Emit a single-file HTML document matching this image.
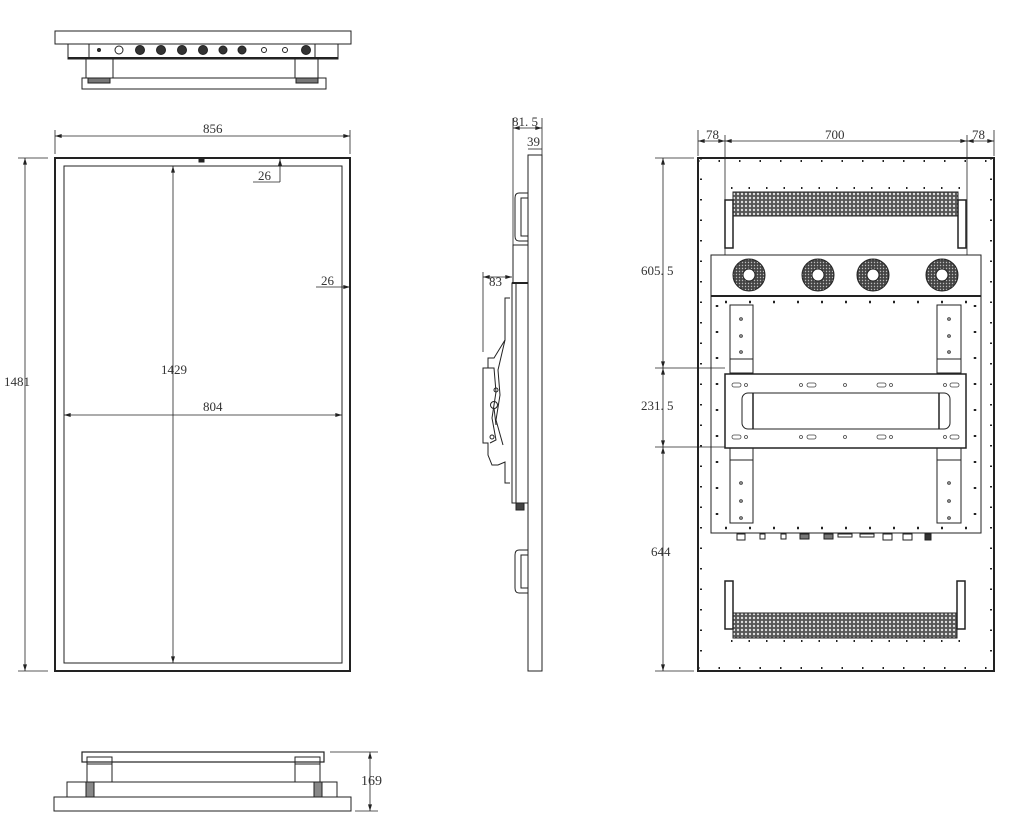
<!DOCTYPE html>
<html><head><meta charset="utf-8"><style>
html,body{margin:0;padding:0;background:#fff;}
svg{display:block}
text{font-family:"Liberation Serif",serif;font-size:13px;fill:#333}
</style></head><body>
<svg width="1024" height="826" viewBox="0 0 1024 826" xmlns="http://www.w3.org/2000/svg">
<defs>
<pattern id="mesh" width="4" height="4" patternUnits="userSpaceOnUse">
<rect width="4" height="4" fill="#555"/><circle cx="2" cy="2" r="1.2" fill="#ddd"/>
</pattern>
<pattern id="fanp" width="3" height="3" patternUnits="userSpaceOnUse">
<rect width="3" height="3" fill="#444"/><circle cx="1.5" cy="1.5" r="0.7" fill="#bbb"/>
</pattern>
<marker id="a" viewBox="0 0 10 6" refX="10" refY="3" markerWidth="7" markerHeight="4" orient="auto-start-reverse" markerUnits="userSpaceOnUse">
<path d="M0 0 L10 3 L0 6 Z" fill="#222"/>
</marker>
</defs>
<g fill="none" stroke="#222" stroke-width="1">
<!-- TOP VIEW -->
<rect x="55" y="31" width="296" height="13"/>
<rect x="68" y="44" width="270" height="15"/>
<rect x="89" y="44" width="226" height="14"/>
<rect x="86" y="59" width="27" height="19"/>
<rect x="295" y="59" width="23" height="19"/>
<rect x="82" y="78" width="244" height="11"/>
<rect x="88" y="78" width="22" height="5" fill="#777"/>
<rect x="296" y="78" width="22" height="5" fill="#777"/>
<line x1="68" y1="58" x2="338" y2="58" stroke-width="2"/>
</g>
<g stroke="#222" fill="none">
<circle cx="99" cy="50" r="1.5" fill="#333"/>
<circle cx="119" cy="50" r="4"/>
<circle cx="140" cy="50" r="4.5" fill="#333"/>
<circle cx="161" cy="50" r="4.5" fill="#333"/>
<circle cx="182" cy="50" r="4.5" fill="#333"/>
<circle cx="203" cy="50" r="4.5" fill="#333"/>
<circle cx="223" cy="50" r="4" fill="#333"/>
<circle cx="242" cy="50" r="4" fill="#333"/>
<circle cx="264" cy="50" r="2.5"/>
<circle cx="285" cy="50" r="2.5"/>
<circle cx="306" cy="50" r="4.5" fill="#333"/>
</g>

<!-- FRONT VIEW -->
<g fill="none" stroke="#222">
<rect x="55" y="158" width="295" height="513" stroke-width="2"/>
<rect x="64" y="166" width="278" height="497"/>
<rect x="199" y="159" width="5" height="3" fill="#222"/>
<line x1="173" y1="166" x2="173" y2="663" stroke-width="0.8" marker-start="url(#a)" marker-end="url(#a)"/>
<line x1="64" y1="415" x2="342" y2="415" stroke-width="0.8" marker-start="url(#a)" marker-end="url(#a)"/>
<line x1="55" y1="130" x2="55" y2="154" stroke-width="0.8"/>
<line x1="350" y1="130" x2="350" y2="154" stroke-width="0.8"/>
<line x1="55" y1="136" x2="350" y2="136" stroke-width="0.8" marker-start="url(#a)" marker-end="url(#a)"/>
<line x1="18" y1="158" x2="48" y2="158" stroke-width="0.8"/>
<line x1="18" y1="671" x2="48" y2="671" stroke-width="0.8"/>
<line x1="25" y1="158" x2="25" y2="671" stroke-width="0.8" marker-start="url(#a)" marker-end="url(#a)"/>
<line x1="280" y1="182" x2="280" y2="159" stroke-width="0.8" marker-end="url(#a)"/>
<line x1="253" y1="182" x2="280" y2="182" stroke-width="0.8"/>
<line x1="316" y1="287" x2="350" y2="287" stroke-width="0.8" marker-end="url(#a)"/>
</g>
<text x="203" y="133">856</text>
<text x="4" y="386">1481</text>
<text x="161" y="374">1429</text>
<text x="203" y="411">804</text>
<text x="258" y="180">26</text>
<text x="321" y="285">26</text>

<!-- SIDE VIEW -->
<g fill="none" stroke="#222">
<rect x="528" y="135" width="14" height="536" stroke="none"/>
<rect x="528" y="155" width="14" height="516"/>
<line x1="513" y1="118" x2="513" y2="245" stroke-width="0.8"/>
<line x1="542" y1="118" x2="542" y2="155" stroke-width="0.8"/>
<line x1="513" y1="128" x2="542" y2="128" stroke-width="0.8" marker-start="url(#a)" marker-end="url(#a)"/>
<line x1="528" y1="149" x2="542" y2="149" stroke-width="0.8"/>
<path d="M528 193 H519 Q515 193 515 198 V236 Q515 241 519 241 H528"/>
<path d="M528 198 H521 V236 H528"/>
<rect x="513" y="245" width="15" height="38"/>
<rect x="512" y="283" width="16" height="220"/>
<line x1="516" y1="283" x2="516" y2="503"/>
<line x1="512" y1="283" x2="528" y2="283" stroke-width="2"/>
<rect x="516" y="503" width="8" height="7" fill="#444"/>
<path d="M528 550 H519 Q515 550 515 555 V588 Q515 593 519 593 H528"/>
<path d="M528 555 H521 V588 H528"/>
<line x1="483" y1="272" x2="483" y2="352" stroke-width="0.8"/>
<line x1="483" y1="277" x2="512" y2="277" stroke-width="0.8" marker-start="url(#a)" marker-end="url(#a)"/>
<path d="M510 298 H505 V340 L494 358 H488 V368 H483 V443 H488 V455 L492 465 H498 L505 462 V483 H510"/>
<path d="M488 368 L494 368 L496 392 L492 418 L496 440 L490 443"/>
<path d="M505 340 L498 370 L500 395 L496 420 L503 445"/>
<circle cx="494" cy="405" r="3.5"/>
<circle cx="496" cy="390" r="2"/>
<circle cx="492" cy="437" r="2"/>
<line x1="494" y1="408" x2="496" y2="425"/>
</g>
<text x="512" y="126">81. 5</text>
<text x="527" y="146">39</text>
<text x="489" y="286">83</text>

<!-- BACK VIEW -->
<g fill="none" stroke="#222">
<rect x="698" y="158" width="296" height="513" stroke-width="2"/>
<line x1="701" y1="158" x2="701" y2="671" stroke-width="2" stroke-dasharray="1.5 19"/>
<line x1="991" y1="158" x2="991" y2="671" stroke-width="2" stroke-dasharray="1.5 19"/>
<line x1="698" y1="161" x2="994" y2="161" stroke-width="2" stroke-dasharray="1.5 19"/>
<line x1="698" y1="668" x2="994" y2="668" stroke-width="2" stroke-dasharray="1.5 19"/>
<line x1="698" y1="130" x2="698" y2="156" stroke-width="0.8"/>
<line x1="994" y1="130" x2="994" y2="156" stroke-width="0.8"/>
<line x1="725" y1="135" x2="725" y2="255" stroke-width="0.8"/>
<line x1="967" y1="135" x2="967" y2="255" stroke-width="0.8"/>
<line x1="698" y1="141" x2="725" y2="141" stroke-width="0.8" marker-start="url(#a)" marker-end="url(#a)"/>
<line x1="725" y1="141" x2="967" y2="141" stroke-width="0.8" marker-start="url(#a)" marker-end="url(#a)"/>
<line x1="967" y1="141" x2="994" y2="141" stroke-width="0.8" marker-start="url(#a)" marker-end="url(#a)"/>
<line x1="655" y1="158" x2="694" y2="158" stroke-width="0.8"/>
<line x1="655" y1="671" x2="694" y2="671" stroke-width="0.8"/>
<line x1="655" y1="368" x2="725" y2="368" stroke-width="0.8"/>
<line x1="655" y1="447" x2="725" y2="447" stroke-width="0.8"/>
<line x1="663" y1="158" x2="663" y2="368" stroke-width="0.8" marker-start="url(#a)" marker-end="url(#a)"/>
<line x1="663" y1="368" x2="663" y2="447" stroke-width="0.8" marker-start="url(#a)" marker-end="url(#a)"/>
<line x1="663" y1="447" x2="663" y2="671" stroke-width="0.8" marker-start="url(#a)" marker-end="url(#a)"/>
<rect x="733" y="192" width="225" height="24" fill="url(#mesh)"/>
<rect x="725" y="200" width="8" height="48" stroke-width="1.5"/>
<rect x="958" y="200" width="8" height="48" stroke-width="1.5"/>
<line x1="731" y1="188" x2="962" y2="188" stroke-width="2" stroke-dasharray="1.5 16"/>
<rect x="711" y="255" width="270" height="41"/>
<line x1="711" y1="296" x2="981" y2="296" stroke-width="2"/>
<rect x="711" y="296" width="270" height="237"/>
<line x1="725" y1="302" x2="967" y2="302" stroke-width="2.5" stroke-dasharray="2 22"/>
<line x1="725" y1="528" x2="967" y2="528" stroke-width="2.5" stroke-dasharray="2 22"/>
<line x1="717" y1="305" x2="717" y2="528" stroke-width="2.5" stroke-dasharray="2 24"/>
<line x1="975" y1="305" x2="975" y2="528" stroke-width="2.5" stroke-dasharray="2 24"/>
<rect x="730" y="305" width="23" height="68"/>
<line x1="730" y1="359" x2="753" y2="359"/>
<rect x="937" y="305" width="24" height="68"/>
<line x1="937" y1="359" x2="961" y2="359"/>
<rect x="730" y="448" width="23" height="75"/>
<line x1="730" y1="460" x2="753" y2="460"/>
<rect x="937" y="448" width="24" height="75"/>
<line x1="937" y1="460" x2="961" y2="460"/>
<rect x="725" y="374" width="241" height="74" stroke-width="1.5"/>
<rect x="742" y="393" width="208" height="36" rx="6"/>
<line x1="753" y1="393" x2="753" y2="429" stroke-width="1.5"/>
<line x1="939" y1="393" x2="939" y2="429" stroke-width="1.5"/>
<rect x="733" y="613" width="224" height="25" fill="url(#mesh)"/>
<rect x="725" y="581" width="8" height="48" stroke-width="1.5"/>
<rect x="957" y="581" width="8" height="48" stroke-width="1.5"/>
<line x1="731" y1="641" x2="962" y2="641" stroke-width="2" stroke-dasharray="1.5 16"/>
</g>
<g fill="#888" stroke="#222" stroke-width="0.6">
<circle cx="741" cy="319" r="1.5"/><circle cx="741" cy="336" r="1.5"/><circle cx="741" cy="352" r="1.5"/>
<circle cx="949" cy="319" r="1.5"/><circle cx="949" cy="336" r="1.5"/><circle cx="949" cy="352" r="1.5"/>
<circle cx="741" cy="483" r="1.5"/><circle cx="741" cy="501" r="1.5"/><circle cx="741" cy="518" r="1.5"/>
<circle cx="949" cy="483" r="1.5"/><circle cx="949" cy="501" r="1.5"/><circle cx="949" cy="518" r="1.5"/>
</g>
<g fill="none" stroke="#444" stroke-width="0.8">
<rect x="732" y="383" width="9" height="4" rx="2"/><rect x="807" y="383" width="9" height="4" rx="2"/><rect x="877" y="383" width="9" height="4" rx="2"/><rect x="950" y="383" width="9" height="4" rx="2"/>
<rect x="732" y="435" width="9" height="4" rx="2"/><rect x="807" y="435" width="9" height="4" rx="2"/><rect x="877" y="435" width="9" height="4" rx="2"/><rect x="950" y="435" width="9" height="4" rx="2"/>
<circle cx="746" cy="385" r="1.5"/><circle cx="801" cy="385" r="1.5"/><circle cx="845" cy="385" r="1.5"/><circle cx="891" cy="385" r="1.5"/><circle cx="945" cy="385" r="1.5"/>
<circle cx="746" cy="437" r="1.5"/><circle cx="801" cy="437" r="1.5"/><circle cx="845" cy="437" r="1.5"/><circle cx="891" cy="437" r="1.5"/><circle cx="945" cy="437" r="1.5"/>
</g>
<g stroke="#222">
<circle cx="749" cy="275" r="16" fill="url(#fanp)"/><circle cx="749" cy="275" r="6" fill="#fff"/>
<circle cx="818" cy="275" r="16" fill="url(#fanp)"/><circle cx="818" cy="275" r="6" fill="#fff"/>
<circle cx="873" cy="275" r="16" fill="url(#fanp)"/><circle cx="873" cy="275" r="6" fill="#fff"/>
<circle cx="942" cy="275" r="16" fill="url(#fanp)"/><circle cx="942" cy="275" r="6" fill="#fff"/>
</g>
<g fill="none" stroke="#222">
<rect x="737" y="534" width="8" height="6"/><rect x="760" y="534" width="5" height="5"/><rect x="781" y="534" width="5" height="5"/>
<rect x="800" y="534" width="9" height="5" fill="#777"/><rect x="824" y="534" width="9" height="5" fill="#777"/>
<rect x="838" y="534" width="14" height="3"/><rect x="860" y="534" width="14" height="3"/>
<rect x="883" y="534" width="9" height="6"/><rect x="903" y="534" width="9" height="6"/><rect x="925" y="534" width="6" height="6" fill="#333"/>
</g>
<text x="706" y="139">78</text>
<text x="825" y="139">700</text>
<text x="972" y="139">78</text>
<text x="641" y="275">605. 5</text>
<text x="641" y="410">231. 5</text>
<text x="651" y="556">644</text>

<!-- BOTTOM VIEW -->
<g fill="none" stroke="#222">
<rect x="82" y="752" width="242" height="10" stroke-width="1.2"/>
<rect x="87" y="757" width="25" height="25"/>
<line x1="87" y1="764" x2="112" y2="764"/>
<rect x="295" y="757" width="25" height="25"/>
<line x1="295" y1="764" x2="320" y2="764"/>
<rect x="67" y="782" width="270" height="15"/>
<rect x="86" y="782" width="8" height="15" fill="#888"/>
<rect x="314" y="782" width="8" height="15" fill="#888"/>
<rect x="54" y="797" width="297" height="14"/>
<line x1="330" y1="752" x2="378" y2="752" stroke-width="0.8"/>
<line x1="355" y1="811" x2="378" y2="811" stroke-width="0.8"/>
<line x1="370" y1="752" x2="370" y2="811" stroke-width="0.8" marker-start="url(#a)" marker-end="url(#a)"/>
</g>
<text x="361" y="785" style="font-size:14px">169</text>
</svg>
</body></html>
